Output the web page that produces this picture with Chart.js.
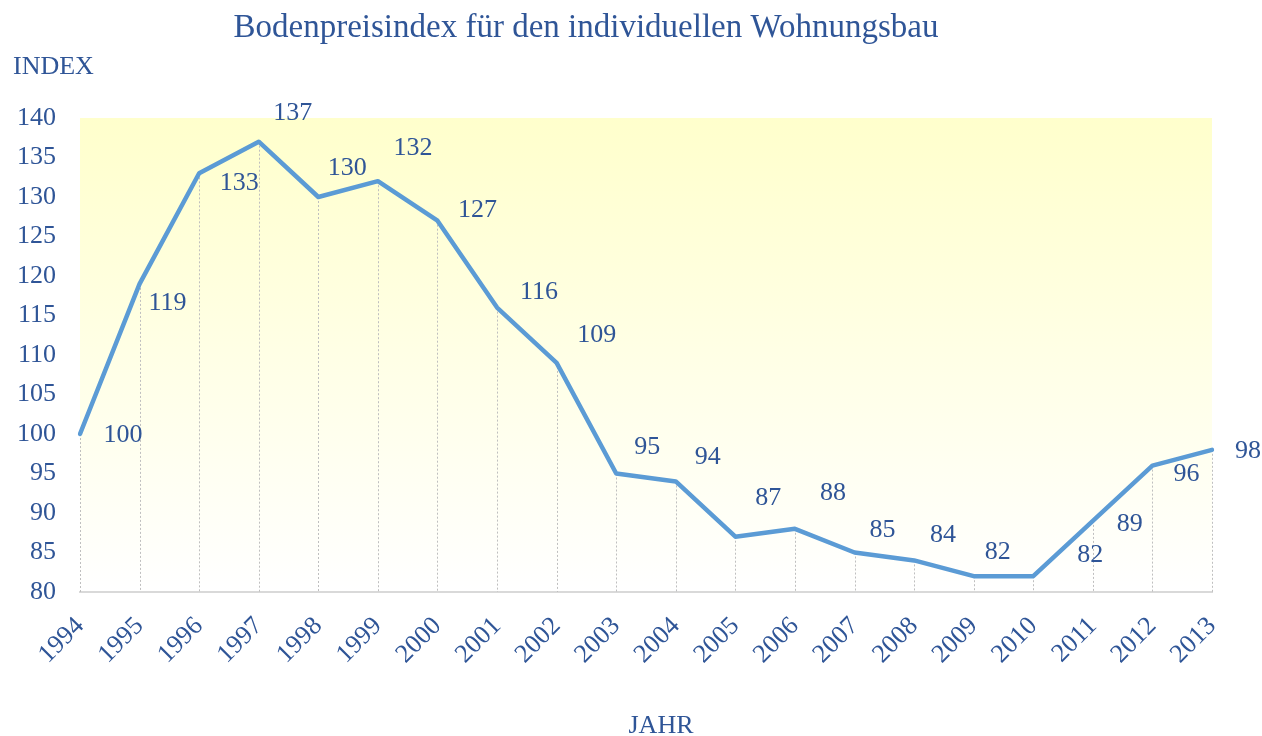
<!DOCTYPE html>
<html>
<head>
<meta charset="utf-8">
<script src="https://cdn.jsdelivr.net/npm/chart.js@4"></script>
<style>
html,body{margin:0;padding:0;background:#fff;}
#wrap{width:1262px;height:736px;position:relative;}
</style>
</head>
<body>
<div id="wrap"><canvas id="c" width="1262" height="736"></canvas></div>
<script>
const years = ['1994','1995','1996','1997','1998','1999','2000','2001','2002','2003','2004','2005','2006','2007','2008','2009','2010','2011','2012','2013'];
const indexValues = [100,119,133,137,130,132,127,116,109,95,94,87,88,85,84,82,82,89,96,98];
const yTicks = [80,85,90,95,100,105,110,115,120,125,130,135,140];
const titleText = 'Bodenpreisindex für den individuellen Wohnungsbau';
const yAxisTitle = 'INDEX';
const xAxisTitle = 'JAHR';

// pixel offsets of value labels relative to their points (style only)
const labelDx = [43,28,40,34,29,35,40,42,40,31,32,33,38,28,29,24,57,37,34,36];
const labelDy = [1,19,10,-29,-29,-33,-11,-15,-28,-26,-24,-39,-36,-22,-25,-24,-21,3,9,1];

const TEXT = '#2F5597';
const FONT = '"Liberation Serif", "Times New Roman", serif';

const bgPlugin = {
  id: 'bg',
  beforeDraw(chart) {
    const {ctx, chartArea: a} = chart;
    const g = ctx.createLinearGradient(0, a.top, 0, a.bottom);
    g.addColorStop(0, '#FFFFCC');
    g.addColorStop(1, '#FFFFFF');
    ctx.save();
    ctx.fillStyle = g;
    ctx.fillRect(a.left, a.top, a.right - a.left, a.bottom - a.top);
    ctx.restore();
  }
};

const dropPlugin = {
  id: 'drops',
  beforeDatasetsDraw(chart) {
    const {ctx, chartArea: a} = chart;
    const meta = chart.getDatasetMeta(0);
    ctx.save();
    ctx.strokeStyle = '#BFBFBF';
    ctx.lineWidth = 1;
    ctx.setLineDash([2, 2]);
    meta.data.forEach(p => {
      const x = Math.round(p.x) + 0.5;
      ctx.beginPath();
      ctx.moveTo(x, p.y);
      ctx.lineTo(x, a.bottom);
      ctx.stroke();
    });
    ctx.restore();
  }
};

const labelPlugin = {
  id: 'vlabels',
  afterDatasetsDraw(chart) {
    const {ctx} = chart;
    const meta = chart.getDatasetMeta(0);
    ctx.save();
    ctx.fillStyle = TEXT;
    ctx.font = '26px ' + FONT;
    ctx.textAlign = 'center';
    ctx.textBaseline = 'middle';
    meta.data.forEach((p, i) => {
      ctx.fillText(String(indexValues[i]), p.x + labelDx[i], p.y + labelDy[i]);
    });
    ctx.restore();
  }
};

const textPlugin = {
  id: 'texts',
  afterDraw(chart) {
    const {ctx} = chart;
    ctx.save();
    ctx.fillStyle = TEXT;
    ctx.textBaseline = 'alphabetic';
    ctx.textAlign = 'center';
    ctx.font = '33px ' + FONT;
    ctx.fillText(titleText, 586, 37);
    ctx.textAlign = 'left';
    ctx.font = '26px ' + FONT;
    ctx.fillText(yAxisTitle, 13, 74);
    ctx.textAlign = 'center';
    ctx.fillText(xAxisTitle, 661, 733);
    ctx.restore();
  }
};

new Chart(document.getElementById('c'), {
  type: 'line',
  data: {
    labels: years,
    datasets: [{
      data: indexValues,
      borderColor: '#5B9BD5',
      borderWidth: 4.5,
      pointRadius: 0,
      pointHoverRadius: 0,
      tension: 0,
      fill: false,
      borderJoinStyle: 'round',
      borderCapStyle: 'round'
    }]
  },
  options: {
    responsive: false,
    animation: false,
    events: [],
    layout: {padding: {left: 0, right: 50, top: 118, bottom: 0}},
    plugins: {legend: {display: false}, title: {display: false}, tooltip: {enabled: false}},
    scales: {
      x: {
        type: 'category',
        offset: false,
        grid: {display: false, drawTicks: false},
        border: {display: true, color: '#D9D9D9', width: 2},
        ticks: {
          color: TEXT,
          font: {family: FONT, size: 26},
          maxRotation: 45,
          minRotation: 45,
          padding: 19,
          autoSkip: false
        },
        afterFit(axis) { axis.height = 144; }
      },
      y: {
        min: 80,
        max: 140,
        afterBuildTicks(axis) { axis.ticks = yTicks.map(v => ({value: v})); },
        grid: {display: false, drawTicks: false},
        border: {display: false},
        ticks: {
          color: TEXT,
          font: {family: FONT, size: 26},
          padding: 24
        },
        afterFit(axis) { axis.width = 80; }
      }
    }
  },
  plugins: [bgPlugin, dropPlugin, labelPlugin, textPlugin]
});
</script>
</body>
</html>
